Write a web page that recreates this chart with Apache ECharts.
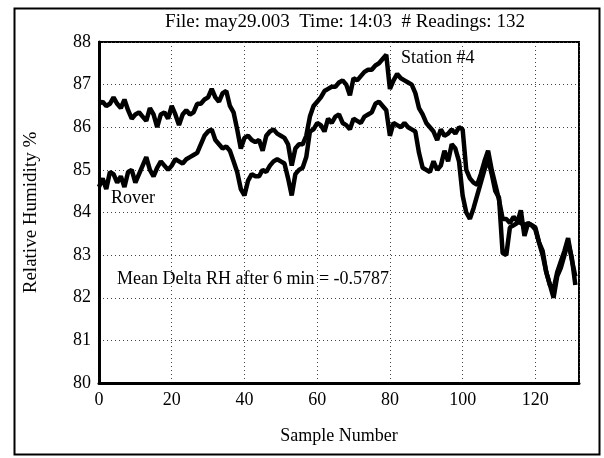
<!DOCTYPE html>
<html>
<head>
<meta charset="utf-8">
<script src="https://cdn.jsdelivr.net/npm/echarts@6/dist/echarts.min.js"></script>
<style>
  html, body { margin: 0; padding: 0; background: #fff; }
  #chart { width: 604px; height: 458px; }
</style>
</head>
<body>
<div id="chart"></div>
<script>
// upper trace (Station #4), one reading per sample number 0..131
var station4 = [
  86.55, 86.6, 86.5, 86.55, 86.7, 86.55, 86.45, 86.65, 86.4, 86.2,
  86.3, 86.35, 86.25, 86.15, 86.45, 86.3, 86.0, 86.3, 86.35, 86.2,
  86.5, 86.3, 86.05, 86.3, 86.4, 86.3, 86.35, 86.55, 86.55, 86.65,
  86.7, 86.9, 86.7, 86.6, 86.8, 86.85, 86.5, 86.35, 85.95, 85.5,
  85.75, 85.8, 85.7, 85.65, 85.7, 85.45, 85.8, 85.9, 85.95, 85.85,
  85.8, 85.75, 85.6, 85.1, 85.5, 85.6, 85.6, 85.8, 86.25, 86.5,
  86.6, 86.7, 86.85, 86.9, 86.95, 86.95, 87.05, 87.1, 87.0, 86.75,
  87.15, 87.1, 87.2, 87.3, 87.35, 87.35, 87.45, 87.5, 87.6, 87.7,
  86.9, 87.1, 87.25, 87.15, 87.1, 87.05, 87.0, 86.8, 86.45, 86.3,
  86.1, 86.0, 85.9, 85.7, 85.95, 85.8, 85.85, 85.95, 85.85, 86.0,
  85.95, 85.0, 84.8, 84.7, 84.65, 84.9, 85.2, 85.45, 85.0, 84.65,
  84.3, 83.85, 83.85, 83.75, 83.9, 83.8, 83.75, 83.7, 83.75, 83.7,
  83.6, 83.3, 83.0, 82.6, 82.3, 82.2, 82.6, 82.85, 83.1, 83.4,
  82.9, 82.5
];
// lower trace (Rover)
var rover = [
  84.6, 84.8, 84.55, 84.95, 84.9, 84.7, 84.85, 84.6, 84.95, 85.0,
  84.7, 84.9, 85.1, 85.3, 85.0, 84.85, 85.05, 85.2, 85.1, 85.0,
  85.1, 85.25, 85.2, 85.15, 85.25, 85.3, 85.35, 85.4, 85.6, 85.8,
  85.9, 85.95, 85.7, 85.6, 85.5, 85.55, 85.45, 85.2, 84.95, 84.55,
  84.4, 84.75, 84.9, 84.85, 84.85, 85.0, 84.95, 85.1, 85.2, 85.25,
  85.2, 85.15, 84.8, 84.4, 84.9, 85.0, 85.05, 85.3, 85.9, 85.95,
  86.1, 86.05, 85.9, 86.2, 86.1, 86.25, 86.3, 86.1, 86.05, 85.95,
  86.2, 86.15, 86.1, 86.25, 86.3, 86.35, 86.55, 86.6, 86.5, 86.4,
  85.8, 86.1, 86.05, 86.0, 86.1, 86.0, 85.95, 85.9, 85.4, 85.05,
  85.0, 84.95, 85.2, 85.0, 85.1, 85.45, 85.2, 85.6, 85.5, 85.2,
  84.4, 84.0, 83.85, 84.1, 84.4, 84.7, 85.0, 85.25, 84.9, 84.5,
  84.35, 83.05, 83.0, 83.65, 83.7, 83.75, 84.05, 83.45, 83.75, 83.7,
  83.65, 83.3, 83.1, 82.6, 82.3, 82.0, 82.5, 82.7, 83.0, 83.3,
  82.95, 82.3
];
var titleText = 'File: may29.003  Time: 14:03  # Readings: 132';
var meanText = 'Mean Delta RH after 6 min = -0.5787';

var FONT = '"Liberation Serif", "DejaVu Serif", serif';

function toPairs(arr) {
  var out = [];
  for (var i = 0; i < arr.length; i++) out.push([i, arr[i]]);
  return out;
}

var chart = echarts.init(document.getElementById('chart'));
chart.setOption({
  animation: false,
  backgroundColor: '#fff',
  textStyle: { fontFamily: FONT, color: '#000' },
  title: {
    text: titleText,
    left: 340, top: 8,
    textAlign: 'center',
    textStyle: { fontFamily: FONT, fontSize: 19, fontWeight: 'normal', color: '#000' }
  },
  grid: {
    left: 99, right: 25, top: 42, bottom: 75,
    show: true, borderColor: '#000', borderWidth: 2
  },
  xAxis: {
    type: 'value', min: 0, max: 132, interval: 20,
    name: 'Sample Number', nameLocation: 'middle', nameGap: 44,
    nameTextStyle: { fontFamily: FONT, fontSize: 18, color: '#000' },
    axisLine: { lineStyle: { color: '#000', width: 3 } },
    axisTick: { show: false },
    axisLabel: { fontFamily: FONT, fontSize: 18, color: '#000', margin: 8, showMaxLabel: false },
    splitLine: { lineStyle: { color: '#444', type: [1, 3], width: 1 } }
  },
  yAxis: {
    type: 'value', min: 80, max: 88, interval: 1,
    name: 'Relative Humidity %', nameLocation: 'middle', nameGap: 58,
    nameTextStyle: { fontFamily: FONT, fontSize: 19, color: '#000' },
    axisLine: { show: true, lineStyle: { color: '#000', width: 3 } },
    axisTick: { show: false },
    axisLabel: { fontFamily: FONT, fontSize: 18, color: '#000', margin: 8 },
    splitLine: { lineStyle: { color: '#444', type: [1, 3], width: 1 } }
  },
  series: [
    {
      name: 'Station #4', type: 'line', data: toPairs(station4),
      symbol: 'none', lineStyle: { color: '#000', width: 4.5 }, z: 3
    },
    {
      name: 'Rover', type: 'line', data: toPairs(rover),
      symbol: 'none', lineStyle: { color: '#000', width: 4.5 }, z: 3
    }
  ],
  graphic: [
    {
      type: 'rect', left: 12, top: 6, z: 0,
      shape: { width: 585, height: 446 },
      style: { fill: 'none', stroke: '#000', lineWidth: 2 }
    },
    {
      type: 'text', left: 401, top: 49, z: 10,
      style: { text: 'Station #4', font: '18px ' + FONT, fill: '#000' }
    },
    {
      type: 'text', left: 111, top: 189, z: 10,
      style: { text: 'Rover', font: '18px ' + FONT, fill: '#000' }
    },
    {
      type: 'text', left: 117, top: 270, z: 10,
      style: { text: meanText, font: '18px ' + FONT, fill: '#000' }
    }
  ]
});
</script>
</body>
</html>
